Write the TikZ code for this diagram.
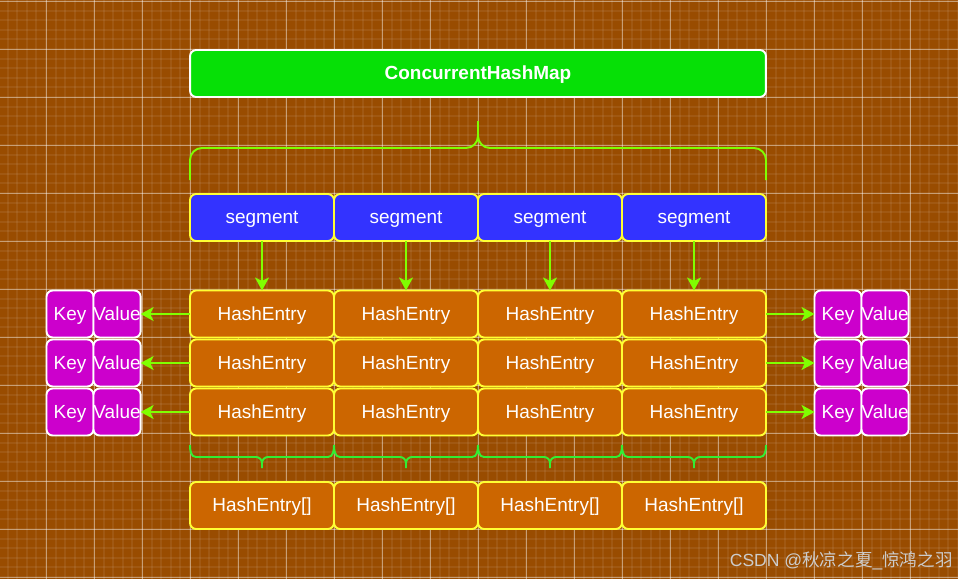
\documentclass[tikz,border=0pt]{standalone}
\usepackage{fontspec}
\setmainfont{Liberation Sans}
\newfontfamily\cjkfont{Noto Sans CJK SC}
\usetikzlibrary{arrows.meta,positioning,calc}
\usepackage{xcolor}

\definecolor{bgbrown}{HTML}{994C00}
\definecolor{mapgreen}{HTML}{06E006}
\definecolor{segblue}{HTML}{3333FF}
\definecolor{heorange}{HTML}{CC6600}
\definecolor{kvmagenta}{HTML}{CC00CC}
\definecolor{limeline}{HTML}{80FF00}
\definecolor{bracegreen}{HTML}{33EE33}
\definecolor{edgeyellow}{HTML}{FFFF33}
\definecolor{markgray}{HTML}{CCCCCC}

\begin{document}
\begin{tikzpicture}[
    x=0.02cm, y=-0.02cm,
    font=\fontsize{10.8}{13}\selectfont,
    minorgrid/.style={white, opacity=0.07, line width=0.04cm},
    majorgrid/.style={white, opacity=0.42, line width=0.018cm},
    cell/.style={rectangle, line width=1.1pt, rounded corners=3.5pt, outer sep=0pt, inner sep=0pt, text=white, minimum height=0.94cm, text height=0.72em, text depth=0pt},
    mapbox/.style={cell, draw=white, fill=mapgreen, minimum width=11.52cm, font=\fontsize{10.8}{13}\selectfont\bfseries},
    segbox/.style={cell, draw=edgeyellow, fill=segblue, minimum width=2.88cm},
    entrybox/.style={cell, draw=edgeyellow, fill=heorange, minimum width=2.88cm},
    kvbox/.style={cell, draw=white, fill=kvmagenta, minimum width=0.94cm},
    arr/.style={-{Stealth[length=0.26cm, width=0.28cm, inset=0.07cm]}, limeline, line width=1.1pt},
    topbrace/.style={limeline, line width=1.1pt},
    lowbrace/.style={bracegreen, line width=1.1pt}
  ]
    % background and grid
    \fill[bgbrown] (0,0) rectangle (958,579);
    \useasboundingbox (0,0) rectangle (958,579);
    \foreach \k in {0,...,100} \draw[minorgrid] ({-2+9.6*\k},0) -- ({-2+9.6*\k},579);
    \foreach \k in {0,...,60} \draw[minorgrid] (0,{1+9.6*\k}) -- (958,{1+9.6*\k});
    \foreach \k in {0,...,20} \draw[majorgrid] ({-2+48*\k},0) -- ({-2+48*\k},579);
    \foreach \k in {0,...,12} \draw[majorgrid] (0,{1+48*\k}) -- (958,{1+48*\k});

    \node[mapbox] (chm) at (478,73.5) {ConcurrentHashMap};

    % brace over the segments
    \draw[topbrace] (190,180) -- (190,160) to[out=90,in=180] (202,148) -- (466,148)
      to[out=0,in=-90] (478,136) -- (478,121);
    \draw[topbrace] (478,136) to[out=-90,in=180] (490,148) -- (754,148)
      to[out=0,in=90] (766,160) -- (766,180);

    \foreach \c in {1,...,4} {
      \node[segbox] (seg\c) at ({118+144*\c},217.5) {segment};
      \foreach \r in {1,2,3}
        \node[entrybox] (he\r\c) at ({118+144*\c},{265+49*\r}) {HashEntry};
      \node[entrybox] (tab\c) at ({118+144*\c},505.5) {HashEntry[]};
      \draw[arr] (seg\c.south) -- (he1\c.north);
    }

    % key / value pairs on both sides
    \foreach \r in {1,2,3} {
      \node[kvbox] (keyl\r) at (70,{265+49*\r}) {Key};
      \node[kvbox, right=0pt of keyl\r] (vall\r) {Value};
      \node[kvbox] (keyr\r) at (838,{265+49*\r}) {Key};
      \node[kvbox, right=0pt of keyr\r] (valr\r) {Value};
      \draw[arr] (he\r1.west) -- (vall\r.east);
      \draw[arr] (he\r4.east) -- (keyr\r.west);
    }

    % braces under each column
    \foreach \c in {1,...,4} {
      \pgfmathsetmacro{\xm}{118+144*\c}
      \draw[lowbrace] ({\xm-72},445) to[out=-90,in=180] ({\xm-66},457) -- ({\xm-6},457)
        to[out=0,in=90] (\xm,463) -- (\xm,468);
      \draw[lowbrace] (\xm,463) to[out=90,in=180] ({\xm+6},457) -- ({\xm+66},457)
        to[out=0,in=-90] ({\xm+72},445);
    }

    \node[anchor=east, text=markgray, inner sep=0pt, font=\fontsize{10}{12}\selectfont] (mark) at (953,561)
      {CSDN @{\cjkfont 秋凉之夏}\_{\cjkfont 惊鸿之羽}};
  \end{tikzpicture}
\end{document}
